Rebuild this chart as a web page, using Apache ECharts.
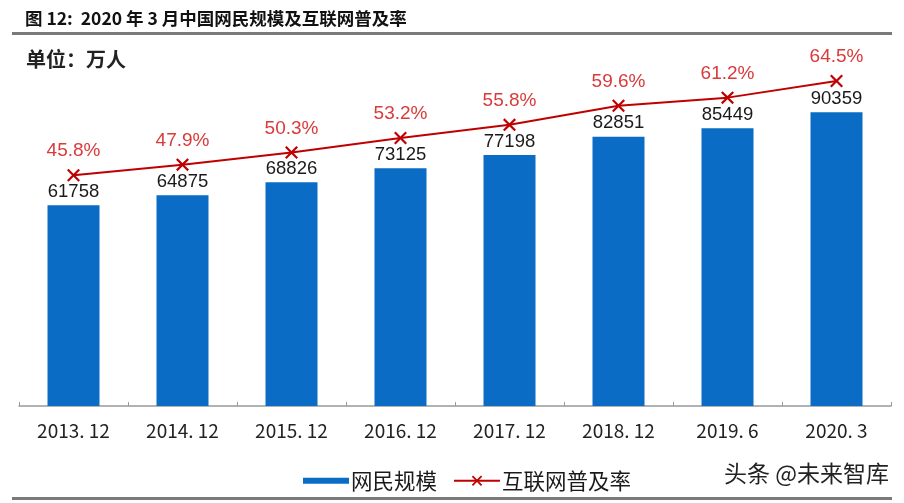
<!DOCTYPE html>
<html lang="zh">
<head>
<meta charset="UTF-8">
<title>2020年3月中国网民规模及互联网普及率</title>
<script src="https://cdn.jsdelivr.net/npm/echarts@6/dist/echarts.min.js"></script>
<style>
  html, body { margin: 0; padding: 0; background: #fff; }
  #main { width: 904px; height: 503px; }
</style>
</head>
<body>
<div id="main"></div>
<script type="text/javascript">
// 数据
var categories = ['2013. 12', '2014. 12', '2015. 12', '2016. 12', '2017. 12', '2018. 12', '2019. 6', '2020. 3'];
var netizens = [61758, 64875, 68826, 73125, 77198, 82851, 85449, 90359];   // 网民规模（万人）
var penetration = [45.8, 47.9, 50.3, 53.2, 55.8, 59.6, 61.2, 64.5];       // 互联网普及率（%）

var cnFont = '"Noto Sans CJK SC", sans-serif';
var numFont = '"Liberation Sans", Arial, sans-serif';
var crossPath = 'path://M0,1.2 L1.2,0 L5,3.8 L8.8,0 L10,1.2 L6.2,5 L10,8.8 L8.8,10 L5,6.2 L1.2,10 L0,8.8 L3.8,5 Z';

var myChart = echarts.init(document.getElementById('main'));
var option = {
    backgroundColor: '#fff',
    animation: false,
    title: [{
        text: '图 12:  2020 年 3 月中国网民规模及互联网普及率',
        left: 20, top: 5,
        textStyle: { fontFamily: cnFont, fontSize: 17.5, fontWeight: 'bold', color: '#111' }
    }, {
        text: '单位：万人',
        left: 21, top: 44,
        textStyle: { fontFamily: cnFont, fontSize: 20, fontWeight: 'bold', color: '#222' }
    }],
    graphic: [
        { type: 'rect', shape: { x: 12, y: 32, width: 880, height: 3 }, style: { fill: '#7a7a7a' } },
        { type: 'rect', shape: { x: 12, y: 497, width: 880, height: 3 }, style: { fill: '#7a7a7a' } },
        { type: 'text', left: 724, top: 462,
          style: { text: '头条 @未来智库', fontFamily: cnFont, fontSize: 23, fill: '#222' } }
    ],
    legend: {
        left: 298, top: 465,
        itemGap: 16,
        itemWidth: 46,
        itemHeight: 13,
        textStyle: { fontFamily: cnFont, fontSize: 21.5, color: '#1a1a1a', padding: [0, 0, 0, -3] },
        data: [
            { name: '网民规模', icon: 'path://M0,4 L46,4 L46,10 L0,10 Z' },
            { name: '互联网普及率' }
        ]
    },
    grid: { left: 19, right: 13, top: 81, bottom: 97 },
    xAxis: {
        type: 'category',
        data: categories,
        axisLine: { lineStyle: { color: '#999', width: 1.5 } },
        axisTick: { show: true, inside: true, length: 4, lineStyle: { color: '#999' } },
        axisLabel: { fontFamily: cnFont, fontSize: 19, color: '#222', margin: 15 }
    },
    yAxis: [
        { type: 'value', min: 0, max: 100000, show: false, splitLine: { show: false } },
        { type: 'value', min: 0, max: 64.5, show: false, splitLine: { show: false } }
    ],
    series: [{
        name: '网民规模',
        type: 'bar',
        data: netizens,
        barWidth: 52,
        itemStyle: { color: '#0A6CC4' },
        label: {
            show: true, position: 'top', distance: 4,
            fontFamily: numFont, fontSize: 18.5, color: '#1a1a1a'
        }
    }, {
        name: '互联网普及率',
        type: 'line',
        yAxisIndex: 1,
        data: penetration,
        symbol: crossPath,
        symbolSize: 13,
        lineStyle: { color: '#C00000', width: 2 },
        itemStyle: { color: '#C00000', borderWidth: 0 },
        label: {
            show: true, position: 'top', distance: 8,
            formatter: function (p) { return p.value.toFixed(1) + '%'; },
            fontFamily: numFont, fontSize: 19, color: '#D93A3A'
        }
    }]
};
myChart.setOption(option);
</script>
</body>
</html>
